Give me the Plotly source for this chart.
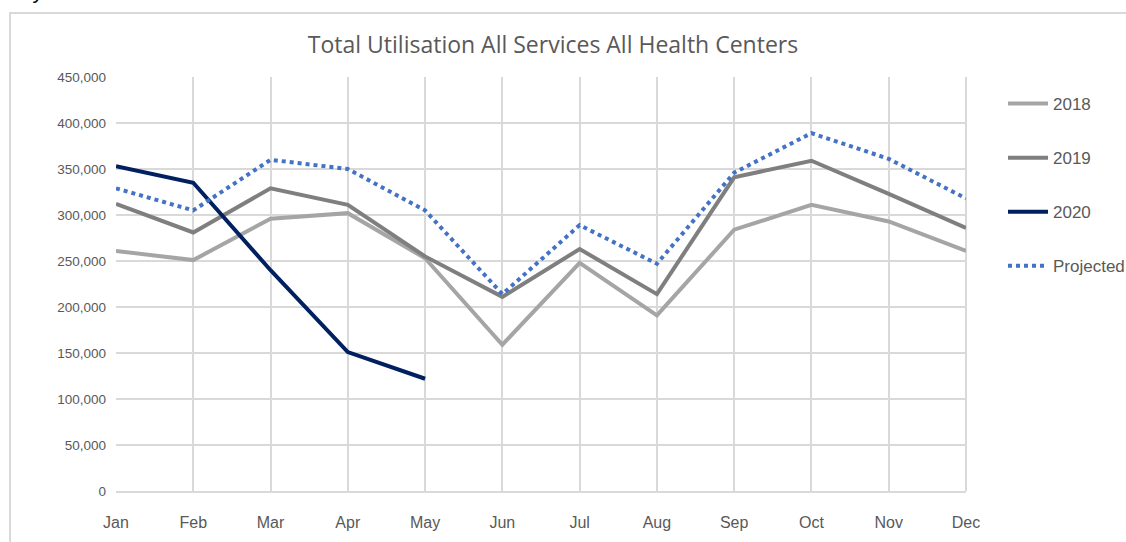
import plotly.graph_objects as go

months = ["Jan", "Feb", "Mar", "Apr", "May", "Jun", "Jul", "Aug", "Sep", "Oct", "Nov", "Dec"]
s2018 = [261000, 251000, 296000, 302000, 253000, 159000, 248000, 191000, 284000, 311000, 293000, 261000]
s2019 = [312000, 281000, 329000, 311000, 255000, 211000, 263000, 214000, 341000, 359000, 323000, 286000]
s2020 = [353000, 335000, 240000, 151000, 122000]
projected = [329000, 305000, 360000, 350000, 305000, 214000, 289000, 247000, 346000, 389000, 361000, 318000]

FONT = "Liberation Sans"
TXT = "#595959"
GRID = "#D9D9D9"

xi = list(range(len(months)))
fig = go.Figure()
fig.add_trace(go.Scatter(x=xi, y=s2018, name="2018", mode="lines",
                         line=dict(color="#A5A5A5", width=4), legendgroup="a"))
fig.add_trace(go.Scatter(x=xi, y=s2019, name="2019", mode="lines",
                         line=dict(color="#7F7F7F", width=4), legendgroup="b"))
fig.add_trace(go.Scatter(x=xi[:len(s2020)], y=s2020, name="2020", mode="lines",
                         line=dict(color="#002060", width=4), legendgroup="c"))
fig.add_trace(go.Scatter(x=xi, y=projected, name="Projected", mode="lines",
                         line=dict(color="#4472C4", width=4, dash="dot"), legendgroup="d"))

L, R, T, B = 116, 966, 77, 491
W, H = 1126, 542
pw, ph = R - L, B - T

def px(x):
    return (x - L) / pw

def py(y):
    return (B - y) / ph

fig.update_layout(
    width=W, height=H,
    margin=dict(l=L, r=W - R, t=T, b=H - B, autoexpand=False),
    paper_bgcolor="white", plot_bgcolor="white",
    font=dict(family=FONT, color=TXT, size=14),
    title=dict(text="Total Utilisation All Services All Health Centers",
               x=px(553), xref="paper", xanchor="center",
               y=1 - 45 / H, yanchor="middle",
               font=dict(size=23, color=TXT, family="Open Sans")),
    legend=dict(x=px(1003), y=py(86), xanchor="left", yanchor="top",
                tracegroupgap=29, font=dict(size=17, color=TXT),
                bgcolor="rgba(0,0,0,0)", itemwidth=40),
    showlegend=True,
)
fig.update_xaxes(range=[0, 11], tickvals=xi, ticktext=months,
                 showgrid=True, gridcolor=GRID, gridwidth=2,
                 showline=True, linecolor=GRID, linewidth=2, mirror=False,
                 ticks="", ticklabelstandoff=16, zeroline=False,
                 tickfont=dict(size=16, color=TXT))
fig.update_yaxes(range=[0, 450000], dtick=50000, tickformat=",",
                 showgrid=True, gridcolor=GRID, gridwidth=2,
                 zeroline=False, showline=False, ticks="", ticklabelstandoff=9,
                 tickfont=dict(size=13.5, color=TXT))

# chart border
fig.add_shape(type="rect", xref="paper", yref="paper",
              x0=px(10), x1=px(1140), y0=py(560), y1=py(13),
              line=dict(color=GRID, width=2), fillcolor="rgba(0,0,0,0)", layer="below")
# right edge line of plot area
fig.add_shape(type="line", xref="paper", yref="paper", x0=1, x1=1, y0=0, y1=1,
              line=dict(color=GRID, width=2), layer="below")

fig.add_annotation(text="May 2020", xref="paper", yref="paper",
                   x=px(0), y=py(5), xanchor="left", yanchor="bottom",
                   showarrow=False, font=dict(size=22, color="#000000", family=FONT))

fig.write_html("out.html", config={"displayModeBar": False},
               post_script="document.body.style.margin='0';")
